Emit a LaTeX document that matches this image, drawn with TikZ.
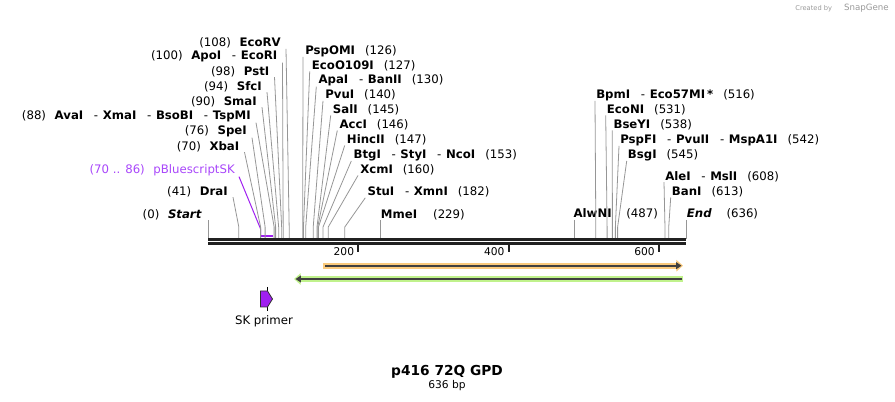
\documentclass[tikz,border=0pt]{standalone}
\usepackage{fontspec}
\setmainfont{DejaVu Sans}
\usepackage{tikz}
\usetikzlibrary{calc,positioning,arrows.meta}

\definecolor{cutgray}{RGB}{150,150,150}
\definecolor{skpurple}{RGB}{168,70,250}
\definecolor{primerpurple}{RGB}{160,32,240}
\definecolor{orangeband}{RGB}{250,202,125}
\definecolor{greenband}{RGB}{192,242,140}

% "(pos)  Name" and "Name  (pos)"
\newcommand{\lsite}[2]{(#1)\hspace{6.5pt}\textbf{#2}}
\newcommand{\rsite}[2]{\textbf{#1}\hspace{7.5pt}(#2)}
\newcommand{\andcut}{\hspace{8pt}-\hspace{3.5pt}}

\begin{document}
\begin{tikzpicture}[x=0.75pt,y=-0.75pt,
    lab/.style={inner sep=0pt,font=\fontsize{8.8}{10}\selectfont},
    lft/.style={lab,anchor=east},
    rgt/.style={lab,anchor=west},
    cut/.style={draw=cutgray,line width=0.6pt},
    backbone/.style={line width=2.25pt,draw=black!87},
    band/.style={line width=4.6pt},
    core/.style={line width=1.6pt,draw=black!75}]
\useasboundingbox (0,0) rectangle (895,402);

\foreach \bp in {0,41,70,76,86,88,90,94,98,100,108,126,127,130,140,145,146,147,153,160,182,229,487,516,531,538,542,545,608,613,636}
  \coordinate (s\bp) at ({208+\bp*0.7516},239);

% left side
\node[lft] (Start) at (202,215) {(0)\hspace{6.5pt}\textbf{\textit{Start}}};
\draw[cut] (s0 |- Start.south) -- (s0);
\node[lft] (DraI) at (228,191.7) {\lsite{41}{DraI}};
\draw[cut] ($(DraI.south east)+(5,0)$) -- ($(s41)+(0,-12)$) -- (s41);
\node[lft,text=skpurple] (pBS) at (235,170.7) {(70 .. 86)\hspace{6.5pt}pBluescriptSK};
\draw[draw=primerpurple,line width=0.75pt] ($(pBS.south east)+(4,0)$) -- ($(s70)+(0,-10)$) -- ($(s70)+(0,-3)$);
\draw[draw=primerpurple,line width=1.6pt] ($(s70)+(0,-3)$) -- ($(s86)+(0,-3)$);
\node[lft] (XbaI) at (239.5,146.7) {\lsite{70}{XbaI}};
\draw[cut] ($(XbaI.south east)+(5,0)$) -- ($(s70)+(0,-12)$) -- (s70);
\node[lft] (SpeI) at (247,131.7) {\lsite{76}{SpeI}};
\draw[cut] ($(SpeI.south east)+(5,0)$) -- ($(s76)+(0,-12)$) -- (s76);
\node[lft] (AvaI) at (251,116.7) {\lsite{88}{AvaI}\andcut\textbf{XmaI}\andcut\textbf{BsoBI}\andcut\textbf{TspMI}};
\draw[cut] ($(AvaI.south east)+(5,0)$) -- ($(s88)+(0,-12)$) -- (s88);
\node[lft] (SmaI) at (257,101.7) {\lsite{90}{SmaI}};
\draw[cut] ($(SmaI.south east)+(5,0)$) -- ($(s90)+(0,-12)$) -- (s90);
\node[lft] (SfcI) at (262,86.7) {\lsite{94}{SfcI}};
\draw[cut] ($(SfcI.south east)+(5,0)$) -- ($(s94)+(0,-12)$) -- (s94);
\node[lft] (PstI) at (269.5,71.7) {\lsite{98}{PstI}};
\draw[cut] ($(PstI.south east)+(5,0)$) -- ($(s98)+(0,-12)$) -- (s98);
\node[lft] (ApoI) at (277.5,56.7) {\lsite{100}{ApoI}\andcut\textbf{EcoRI}};
\draw[cut] ($(ApoI.south east)+(5,0)$) -- ($(s100)+(0,-12)$) -- (s100);
\node[lft] (EcoRV) at (281,43.3) {\lsite{108}{EcoRV}};
\draw[cut] ($(EcoRV.south east)+(5,0)$) -- ($(s108)+(0,-12)$) -- (s108);

% right side, first group
\node[rgt] (PspOMI) at (305,51) {\rsite{PspOMI}{126}};
\draw[cut] ($(PspOMI.south west)+(-2,0)$) -- ($(s126)+(0,-12)$) -- (s126);
\node[rgt] (EcoO) at (311.7,66) {\rsite{EcoO109I}{127}};
\draw[cut] ($(EcoO.south west)+(-2,0)$) -- ($(s127)+(0,-12)$) -- (s127);
\node[rgt] (ApaI) at (318.3,80.7) {\textbf{ApaI}\andcut\rsite{BanII}{130}};
\draw[cut] ($(ApaI.south west)+(-2,0)$) -- ($(s130)+(0,-12)$) -- (s130);
\node[rgt] (PvuI) at (325,95.3) {\rsite{PvuI}{140}};
\draw[cut] ($(PvuI.south west)+(-2,0)$) -- ($(s140)+(0,-12)$) -- (s140);
\node[rgt] (SalI) at (332.7,110) {\rsite{SalI}{145}};
\draw[cut] ($(SalI.south west)+(-2,0)$) -- ($(s145)+(0,-12)$) -- (s145);
\node[rgt] (AccI) at (339.3,125) {\rsite{AccI}{146}};
\draw[cut] ($(AccI.south west)+(-2,0)$) -- ($(s146)+(0,-12)$) -- (s146);
\node[rgt] (HincII) at (346.7,140) {\rsite{HincII}{147}};
\draw[cut] ($(HincII.south west)+(-2,0)$) -- ($(s147)+(0,-12)$) -- (s147);
\node[rgt] (BtgI) at (353.3,155) {\textbf{BtgI}\andcut\textbf{StyI}\andcut\rsite{NcoI}{153}};
\draw[cut] ($(BtgI.south west)+(-2,0)$) -- ($(s153)+(0,-12)$) -- (s153);
\node[rgt] (XcmI) at (360,170) {\rsite{XcmI}{160}};
\draw[cut] ($(XcmI.south west)+(-2,0)$) -- ($(s160)+(0,-12)$) -- (s160);
\node[rgt] (StuI) at (367.3,192.3) {\textbf{StuI}\andcut\rsite{XmnI}{182}};
\draw[cut] ($(StuI.south west)+(-2,0)$) -- ($(s182)+(0,-12)$) -- (s182);
\node[rgt] (MmeI) at (380.7,214.7) {\textbf{MmeI}\hspace{12pt}(229)};
\draw[cut] (s229 |- MmeI.south) -- (s229);

% right side, second group
\node[rgt] (AlwNI) at (573.3,214.3) {\textbf{AlwNI}\hspace{11pt}(487)};
\draw[cut] (s487 |- AlwNI.south) -- (s487);
\node[rgt] (BpmI) at (596,95) {\textbf{BpmI}\andcut\rsite{Eco57MI\,*}{516}};
\draw[cut] ($(BpmI.south west)+(-1,0)$) -- ($(s516)+(0,-12)$) -- (s516);
\node[rgt] (EcoNI) at (606.7,110) {\rsite{EcoNI}{531}};
\draw[cut] ($(EcoNI.south west)+(-1,0)$) -- ($(s531)+(0,-12)$) -- (s531);
\node[rgt] (BseYI) at (613.3,125) {\rsite{BseYI}{538}};
\draw[cut] ($(BseYI.south west)+(-1,0)$) -- ($(s538)+(0,-12)$) -- (s538);
\node[rgt] (PspFI) at (620,140) {\textbf{PspFI}\andcut\textbf{PvuII}\andcut\rsite{MspA1I}{542}};
\draw[cut] ($(PspFI.south west)+(-1,0)$) -- ($(s542)+(0,-12)$) -- (s542);
\node[rgt] (BsgI) at (627.7,155) {\rsite{BsgI}{545}};
\draw[cut] ($(BsgI.south west)+(-1,0)$) -- ($(s545)+(0,-12)$) -- (s545);
\node[rgt] (AleI) at (665,176.7) {\textbf{AleI}\andcut\rsite{MslI}{608}};
\draw[cut] ($(AleI.south west)+(-1,0)$) -- ($(s608)+(0,-12)$) -- (s608);
\node[rgt] (BanI) at (671.7,192) {\rsite{BanI}{613}};
\draw[cut] ($(BanI.south west)+(-1,0)$) -- ($(s613)+(0,-12)$) -- (s613);
\node[rgt] (End) at (686.7,214.3) {\textbf{\textit{End}}\hspace{11pt}(636)};
\draw[cut] (s636 |- End.south) -- (s636);

% backbone and ruler
\draw[backbone] ($(s0)+(0,1)$) -- ($(s636)+(0,1)$);
\draw[backbone] ($(s0)+(0,5)$) -- ($(s636)+(0,5)$);
\foreach \t in {200,400,600} {
  \draw[line width=1.5pt,draw=black!87] ({208+\t*0.7516},245.5) -- ++(0,7);
  \node[lab,anchor=east,font=\fontsize{8}{9}\selectfont] at ({208+\t*0.7516-4},252) {\t};
}

% features
\draw[band,draw=orangeband,-{Triangle[length=5pt,width=8.5pt]}] (323.3,265.7) -- (683,265.7);
\draw[core,-{Triangle[length=4pt,width=5pt]}] (325,265.7) -- (681.5,265.7);
\draw[band,draw=greenband,-{Triangle[length=5pt,width=8.5pt]}] (682.7,279) -- (294,279);
\draw[core,-{Triangle[length=4pt,width=5pt]}] (681.5,279) -- (295.5,279);

% primer
\draw[line width=0.6pt] (267.5,287) -- (267.5,311);
\filldraw[fill=primerpurple,draw=black!80,line width=0.6pt] (260.5,291) -- (267.5,291) -- (272.5,299) -- (267.5,307) -- (260.5,307) -- cycle;
\node[lab] (skp) at (264,321) {SK primer};

% name and size
\node[font=\fontsize{10.3}{12}\selectfont\bfseries,inner sep=0pt] (title) at (447,371.7) {p416 72Q GPD};
\node[font=\fontsize{8}{9}\selectfont,inner sep=0pt] (len) at (447,385.5) {636 bp};
\node[anchor=east,text=black!40,inner sep=0pt,font=\fontsize{5}{6}\selectfont] (credit) at (889,8) {Created by\hspace{9pt}{\fontsize{6.5}{7}\selectfont SnapGene}};
\end{tikzpicture}
\end{document}
